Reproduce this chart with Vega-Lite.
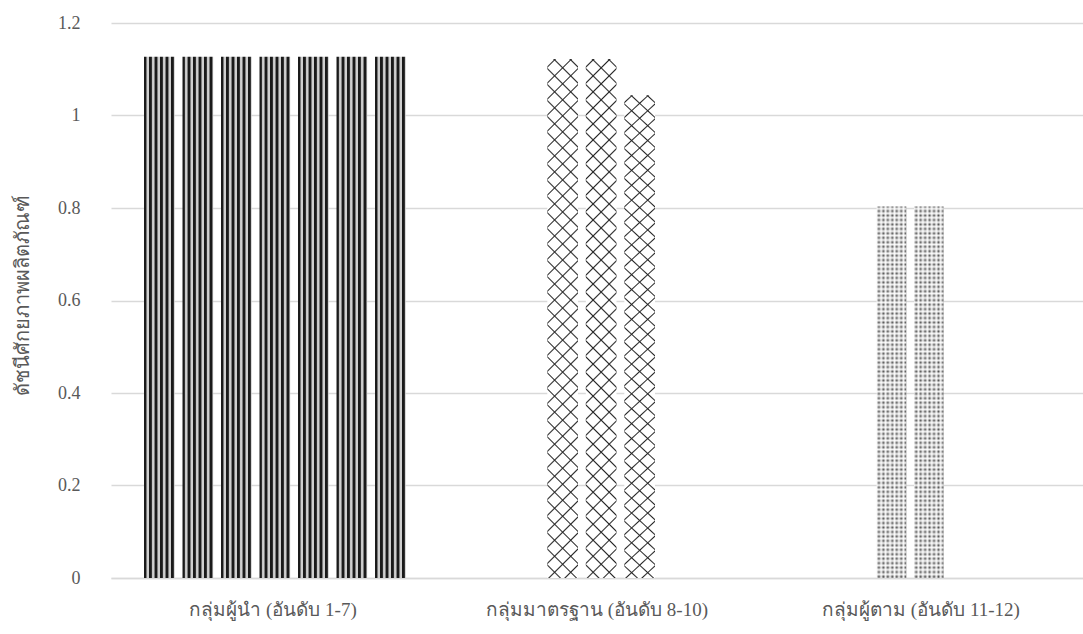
{
  "$schema": "https://vega.github.io/schema/vega-lite/v6.json",
  "width": 972,
  "height": 555,
  "autosize": {"type": "none"},
  "padding": {"left": 111, "top": 23, "right": 0, "bottom": 56},
  "background": "white",
  "config": {
    "view": {"stroke": null},
    "font": "Liberation Serif",
    "axis": {
      "labelFont": "Liberation Serif",
      "labelColor": "#595959",
      "labelFontSize": 18,
      "titleFont": "Liberation Serif",
      "titleColor": "#595959",
      "titleFontSize": 20,
      "titleFontWeight": "normal",
      "ticks": false
    },
    "axisX": {"domainColor": "#d9d9d9", "domainWidth": 1.5, "labelPadding": 22, "labelAngle": 0, "labelLimit": 0, "labelFontSize": 19, "grid": false},
    "axisY": {"domain": false, "gridColor": "#d9d9d9", "gridWidth": 1.3, "labelPadding": 31}
  },
  "resolve": {"scale": {"xOffset": "independent"}},
  "layer": [
    {
      "data": {"values": [
        {"group": "กลุ่มผู้นำ (อันดับ 1-7)", "rank": 1, "index": 1.127},
        {"group": "กลุ่มผู้นำ (อันดับ 1-7)", "rank": 2, "index": 1.127},
        {"group": "กลุ่มผู้นำ (อันดับ 1-7)", "rank": 3, "index": 1.127},
        {"group": "กลุ่มผู้นำ (อันดับ 1-7)", "rank": 4, "index": 1.127},
        {"group": "กลุ่มผู้นำ (อันดับ 1-7)", "rank": 5, "index": 1.127},
        {"group": "กลุ่มผู้นำ (อันดับ 1-7)", "rank": 6, "index": 1.127},
        {"group": "กลุ่มผู้นำ (อันดับ 1-7)", "rank": 7, "index": 1.127}
      ]},
      "mark": {
        "type": "bar",
        "fill": {
          "gradient": "linear", "x1": 0, "y1": 0, "x2": 1, "y2": 0,
          "stops": [
            {"offset": 0, "color": "#1a1a1a"}, {"offset": 0.06, "color": "#1a1a1a"}, {"offset": 0.1, "color": "#cfcfcf"}, {"offset": 0.15, "color": "#cfcfcf"},
            {"offset": 0.179, "color": "#1a1a1a"}, {"offset": 0.239, "color": "#1a1a1a"}, {"offset": 0.279, "color": "#cfcfcf"}, {"offset": 0.329, "color": "#cfcfcf"},
            {"offset": 0.358, "color": "#1a1a1a"}, {"offset": 0.418, "color": "#1a1a1a"}, {"offset": 0.458, "color": "#cfcfcf"}, {"offset": 0.508, "color": "#cfcfcf"},
            {"offset": 0.537, "color": "#1a1a1a"}, {"offset": 0.597, "color": "#1a1a1a"}, {"offset": 0.637, "color": "#cfcfcf"}, {"offset": 0.687, "color": "#cfcfcf"},
            {"offset": 0.716, "color": "#1a1a1a"}, {"offset": 0.776, "color": "#1a1a1a"}, {"offset": 0.816, "color": "#cfcfcf"}, {"offset": 0.866, "color": "#cfcfcf"},
            {"offset": 0.895, "color": "#1a1a1a"}, {"offset": 0.955, "color": "#1a1a1a"}, {"offset": 0.995, "color": "#cfcfcf"}, {"offset": 1, "color": "#cfcfcf"}
          ]
        }
      },
      "encoding": {
        "x": {
          "field": "group", "type": "nominal", "title": null,
          "scale": {"domain": ["กลุ่มผู้นำ (อันดับ 1-7)", "กลุ่มมาตรฐาน (อันดับ 8-10)", "กลุ่มผู้ตาม (อันดับ 11-12)"], "paddingInner": 0, "paddingOuter": 0}
        },
        "xOffset": {"field": "rank", "type": "ordinal", "scale": {"range": [33, 294.7], "paddingInner": 0.203, "paddingOuter": 0}},
        "y": {
          "field": "index", "type": "quantitative",
          "title": "ดัชนีศักยภาพผลิตภัณฑ์",
          "scale": {"domain": [0, 1.2]},
          "axis": {"values": [0, 0.2, 0.4, 0.6, 0.8, 1, 1.2], "format": "~g", "titleX": -89, "titleY": 272, "titleAlign": "center", "titleBaseline": "middle"}
        }
      }
    },
    {
      "data": {"values": [
        {"group": "กลุ่มมาตรฐาน (อันดับ 8-10)", "rank": 8, "index": 1.122},
        {"group": "กลุ่มมาตรฐาน (อันดับ 8-10)", "rank": 9, "index": 1.122},
        {"group": "กลุ่มมาตรฐาน (อันดับ 8-10)", "rank": 10, "index": 1.044}
      ]},
      "encoding": {
        "x": {"field": "group", "type": "nominal", "title": null},
        "xOffset": {"field": "rank", "type": "ordinal", "scale": {"range": [112.3, 220], "paddingInner": 0.203, "paddingOuter": 0}},
        "y": {"field": "index", "type": "quantitative"}
      },
      "layer": [
        {
          "mark": {
            "type": "bar",
            "fill": {
              "gradient": "linear", "x1": 1, "y1": 0, "x2": 0, "y2": 17,
              "stops": [
                {"offset": 0.000734, "color": "#ffffff"}, {"offset": 0.000904, "color": "#262626"}, {"offset": 0.001074, "color": "#ffffff"},
                {"offset": 0.002543, "color": "#ffffff"}, {"offset": 0.002713, "color": "#262626"}, {"offset": 0.002883, "color": "#ffffff"},
                {"offset": 0.004352, "color": "#ffffff"}, {"offset": 0.004522, "color": "#262626"}, {"offset": 0.004692, "color": "#ffffff"},
                {"offset": 0.006161, "color": "#ffffff"}, {"offset": 0.006331, "color": "#262626"}, {"offset": 0.006501, "color": "#ffffff"},
                {"offset": 0.00797, "color": "#ffffff"}, {"offset": 0.00814, "color": "#262626"}, {"offset": 0.00831, "color": "#ffffff"},
                {"offset": 0.009779, "color": "#ffffff"}, {"offset": 0.009949, "color": "#262626"}, {"offset": 0.010119, "color": "#ffffff"},
                {"offset": 0.011588, "color": "#ffffff"}, {"offset": 0.011758, "color": "#262626"}, {"offset": 0.011928, "color": "#ffffff"},
                {"offset": 0.013397, "color": "#ffffff"}, {"offset": 0.013567, "color": "#262626"}, {"offset": 0.013737, "color": "#ffffff"},
                {"offset": 0.015206, "color": "#ffffff"}, {"offset": 0.015376, "color": "#262626"}, {"offset": 0.015546, "color": "#ffffff"},
                {"offset": 0.017015, "color": "#ffffff"}, {"offset": 0.017185, "color": "#262626"}, {"offset": 0.017355, "color": "#ffffff"},
                {"offset": 0.018824, "color": "#ffffff"}, {"offset": 0.018994, "color": "#262626"}, {"offset": 0.019164, "color": "#ffffff"},
                {"offset": 0.020633, "color": "#ffffff"}, {"offset": 0.020803, "color": "#262626"}, {"offset": 0.020973, "color": "#ffffff"},
                {"offset": 0.022442, "color": "#ffffff"}, {"offset": 0.022612, "color": "#262626"}, {"offset": 0.022782, "color": "#ffffff"},
                {"offset": 0.024251, "color": "#ffffff"}, {"offset": 0.024421, "color": "#262626"}, {"offset": 0.024591, "color": "#ffffff"},
                {"offset": 0.026059, "color": "#ffffff"}, {"offset": 0.026229, "color": "#262626"}, {"offset": 0.026399, "color": "#ffffff"},
                {"offset": 0.027868, "color": "#ffffff"}, {"offset": 0.028038, "color": "#262626"}, {"offset": 0.028208, "color": "#ffffff"},
                {"offset": 0.029677, "color": "#ffffff"}, {"offset": 0.029847, "color": "#262626"}, {"offset": 0.030017, "color": "#ffffff"},
                {"offset": 0.031486, "color": "#ffffff"}, {"offset": 0.031656, "color": "#262626"}, {"offset": 0.031826, "color": "#ffffff"},
                {"offset": 0.033295, "color": "#ffffff"}, {"offset": 0.033465, "color": "#262626"}, {"offset": 0.033635, "color": "#ffffff"},
                {"offset": 0.035104, "color": "#ffffff"}, {"offset": 0.035274, "color": "#262626"}, {"offset": 0.035444, "color": "#ffffff"},
                {"offset": 0.036913, "color": "#ffffff"}, {"offset": 0.037083, "color": "#262626"}, {"offset": 0.037253, "color": "#ffffff"},
                {"offset": 0.038722, "color": "#ffffff"}, {"offset": 0.038892, "color": "#262626"}, {"offset": 0.039062, "color": "#ffffff"},
                {"offset": 0.040531, "color": "#ffffff"}, {"offset": 0.040701, "color": "#262626"}, {"offset": 0.040871, "color": "#ffffff"},
                {"offset": 0.04234, "color": "#ffffff"}, {"offset": 0.04251, "color": "#262626"}, {"offset": 0.04268, "color": "#ffffff"},
                {"offset": 0.044149, "color": "#ffffff"}, {"offset": 0.044319, "color": "#262626"}, {"offset": 0.044489, "color": "#ffffff"},
                {"offset": 0.045958, "color": "#ffffff"}, {"offset": 0.046128, "color": "#262626"}, {"offset": 0.046298, "color": "#ffffff"},
                {"offset": 0.047767, "color": "#ffffff"}, {"offset": 0.047937, "color": "#262626"}, {"offset": 0.048107, "color": "#ffffff"},
                {"offset": 0.049576, "color": "#ffffff"}, {"offset": 0.049746, "color": "#262626"}, {"offset": 0.049916, "color": "#ffffff"},
                {"offset": 0.051385, "color": "#ffffff"}, {"offset": 0.051555, "color": "#262626"}, {"offset": 0.051725, "color": "#ffffff"},
                {"offset": 0.053194, "color": "#ffffff"}, {"offset": 0.053364, "color": "#262626"}, {"offset": 0.053534, "color": "#ffffff"},
                {"offset": 0.055002, "color": "#ffffff"}, {"offset": 0.055172, "color": "#262626"}, {"offset": 0.055342, "color": "#ffffff"},
                {"offset": 0.056811, "color": "#ffffff"}, {"offset": 0.056981, "color": "#262626"}, {"offset": 0.057151, "color": "#ffffff"},
                {"offset": 0.05862, "color": "#ffffff"}, {"offset": 0.05879, "color": "#262626"}, {"offset": 0.05896, "color": "#ffffff"},
                {"offset": 0.060429, "color": "#ffffff"}, {"offset": 0.060599, "color": "#262626"}, {"offset": 0.060769, "color": "#ffffff"},
                {"offset": 0.062238, "color": "#ffffff"}, {"offset": 0.062408, "color": "#262626"}, {"offset": 0.062578, "color": "#ffffff"}
              ]
            }
          }
        },
        {
          "mark": {
            "type": "bar",
            "fill": {
              "gradient": "linear", "x1": 0, "y1": 0, "x2": 1, "y2": 17,
              "stops": [
                {"offset": 0.000734, "color": "rgba(38,38,38,0)"}, {"offset": 0.000904, "color": "#262626"}, {"offset": 0.001074, "color": "rgba(38,38,38,0)"},
                {"offset": 0.002543, "color": "rgba(38,38,38,0)"}, {"offset": 0.002713, "color": "#262626"}, {"offset": 0.002883, "color": "rgba(38,38,38,0)"},
                {"offset": 0.004352, "color": "rgba(38,38,38,0)"}, {"offset": 0.004522, "color": "#262626"}, {"offset": 0.004692, "color": "rgba(38,38,38,0)"},
                {"offset": 0.006161, "color": "rgba(38,38,38,0)"}, {"offset": 0.006331, "color": "#262626"}, {"offset": 0.006501, "color": "rgba(38,38,38,0)"},
                {"offset": 0.00797, "color": "rgba(38,38,38,0)"}, {"offset": 0.00814, "color": "#262626"}, {"offset": 0.00831, "color": "rgba(38,38,38,0)"},
                {"offset": 0.009779, "color": "rgba(38,38,38,0)"}, {"offset": 0.009949, "color": "#262626"}, {"offset": 0.010119, "color": "rgba(38,38,38,0)"},
                {"offset": 0.011588, "color": "rgba(38,38,38,0)"}, {"offset": 0.011758, "color": "#262626"}, {"offset": 0.011928, "color": "rgba(38,38,38,0)"},
                {"offset": 0.013397, "color": "rgba(38,38,38,0)"}, {"offset": 0.013567, "color": "#262626"}, {"offset": 0.013737, "color": "rgba(38,38,38,0)"},
                {"offset": 0.015206, "color": "rgba(38,38,38,0)"}, {"offset": 0.015376, "color": "#262626"}, {"offset": 0.015546, "color": "rgba(38,38,38,0)"},
                {"offset": 0.017015, "color": "rgba(38,38,38,0)"}, {"offset": 0.017185, "color": "#262626"}, {"offset": 0.017355, "color": "rgba(38,38,38,0)"},
                {"offset": 0.018824, "color": "rgba(38,38,38,0)"}, {"offset": 0.018994, "color": "#262626"}, {"offset": 0.019164, "color": "rgba(38,38,38,0)"},
                {"offset": 0.020633, "color": "rgba(38,38,38,0)"}, {"offset": 0.020803, "color": "#262626"}, {"offset": 0.020973, "color": "rgba(38,38,38,0)"},
                {"offset": 0.022442, "color": "rgba(38,38,38,0)"}, {"offset": 0.022612, "color": "#262626"}, {"offset": 0.022782, "color": "rgba(38,38,38,0)"},
                {"offset": 0.024251, "color": "rgba(38,38,38,0)"}, {"offset": 0.024421, "color": "#262626"}, {"offset": 0.024591, "color": "rgba(38,38,38,0)"},
                {"offset": 0.026059, "color": "rgba(38,38,38,0)"}, {"offset": 0.026229, "color": "#262626"}, {"offset": 0.026399, "color": "rgba(38,38,38,0)"},
                {"offset": 0.027868, "color": "rgba(38,38,38,0)"}, {"offset": 0.028038, "color": "#262626"}, {"offset": 0.028208, "color": "rgba(38,38,38,0)"},
                {"offset": 0.029677, "color": "rgba(38,38,38,0)"}, {"offset": 0.029847, "color": "#262626"}, {"offset": 0.030017, "color": "rgba(38,38,38,0)"},
                {"offset": 0.031486, "color": "rgba(38,38,38,0)"}, {"offset": 0.031656, "color": "#262626"}, {"offset": 0.031826, "color": "rgba(38,38,38,0)"},
                {"offset": 0.033295, "color": "rgba(38,38,38,0)"}, {"offset": 0.033465, "color": "#262626"}, {"offset": 0.033635, "color": "rgba(38,38,38,0)"},
                {"offset": 0.035104, "color": "rgba(38,38,38,0)"}, {"offset": 0.035274, "color": "#262626"}, {"offset": 0.035444, "color": "rgba(38,38,38,0)"},
                {"offset": 0.036913, "color": "rgba(38,38,38,0)"}, {"offset": 0.037083, "color": "#262626"}, {"offset": 0.037253, "color": "rgba(38,38,38,0)"},
                {"offset": 0.038722, "color": "rgba(38,38,38,0)"}, {"offset": 0.038892, "color": "#262626"}, {"offset": 0.039062, "color": "rgba(38,38,38,0)"},
                {"offset": 0.040531, "color": "rgba(38,38,38,0)"}, {"offset": 0.040701, "color": "#262626"}, {"offset": 0.040871, "color": "rgba(38,38,38,0)"},
                {"offset": 0.04234, "color": "rgba(38,38,38,0)"}, {"offset": 0.04251, "color": "#262626"}, {"offset": 0.04268, "color": "rgba(38,38,38,0)"},
                {"offset": 0.044149, "color": "rgba(38,38,38,0)"}, {"offset": 0.044319, "color": "#262626"}, {"offset": 0.044489, "color": "rgba(38,38,38,0)"},
                {"offset": 0.045958, "color": "rgba(38,38,38,0)"}, {"offset": 0.046128, "color": "#262626"}, {"offset": 0.046298, "color": "rgba(38,38,38,0)"},
                {"offset": 0.047767, "color": "rgba(38,38,38,0)"}, {"offset": 0.047937, "color": "#262626"}, {"offset": 0.048107, "color": "rgba(38,38,38,0)"},
                {"offset": 0.049576, "color": "rgba(38,38,38,0)"}, {"offset": 0.049746, "color": "#262626"}, {"offset": 0.049916, "color": "rgba(38,38,38,0)"},
                {"offset": 0.051385, "color": "rgba(38,38,38,0)"}, {"offset": 0.051555, "color": "#262626"}, {"offset": 0.051725, "color": "rgba(38,38,38,0)"},
                {"offset": 0.053194, "color": "rgba(38,38,38,0)"}, {"offset": 0.053364, "color": "#262626"}, {"offset": 0.053534, "color": "rgba(38,38,38,0)"},
                {"offset": 0.055002, "color": "rgba(38,38,38,0)"}, {"offset": 0.055172, "color": "#262626"}, {"offset": 0.055342, "color": "rgba(38,38,38,0)"},
                {"offset": 0.056811, "color": "rgba(38,38,38,0)"}, {"offset": 0.056981, "color": "#262626"}, {"offset": 0.057151, "color": "rgba(38,38,38,0)"},
                {"offset": 0.05862, "color": "rgba(38,38,38,0)"}, {"offset": 0.05879, "color": "#262626"}, {"offset": 0.05896, "color": "rgba(38,38,38,0)"},
                {"offset": 0.060429, "color": "rgba(38,38,38,0)"}, {"offset": 0.060599, "color": "#262626"}, {"offset": 0.060769, "color": "rgba(38,38,38,0)"},
                {"offset": 0.062238, "color": "rgba(38,38,38,0)"}, {"offset": 0.062408, "color": "#262626"}, {"offset": 0.062578, "color": "rgba(38,38,38,0)"}
              ]
            }
          }
        }
      ]
    },
    {
      "data": {"values": [
        {"group": "กลุ่มผู้ตาม (อันดับ 11-12)", "rank": 11, "index": 0.803},
        {"group": "กลุ่มผู้ตาม (อันดับ 11-12)", "rank": 12, "index": 0.803}
      ]},
      "encoding": {
        "x": {"field": "group", "type": "nominal", "title": null},
        "xOffset": {"field": "rank", "type": "ordinal", "scale": {"range": [117.7, 184.7], "paddingInner": 0.203, "paddingOuter": 0}},
        "y": {"field": "index", "type": "quantitative"}
      },
      "layer": [
        {
          "mark": {
            "type": "bar",
            "fill": {
              "gradient": "linear", "x1": 0, "y1": 0, "x2": 1, "y2": 0,
              "stops": [
                {"offset": 0, "color": "#f0f0f0"}, {"offset": 0.075, "color": "#555555"}, {"offset": 0.15, "color": "#f0f0f0"},
                {"offset": 0.225, "color": "#555555"}, {"offset": 0.3, "color": "#f0f0f0"}, {"offset": 0.375, "color": "#555555"},
                {"offset": 0.45, "color": "#f0f0f0"}, {"offset": 0.525, "color": "#555555"}, {"offset": 0.6, "color": "#f0f0f0"},
                {"offset": 0.675, "color": "#555555"}, {"offset": 0.75, "color": "#f0f0f0"}, {"offset": 0.825, "color": "#555555"},
                {"offset": 0.9, "color": "#f0f0f0"}, {"offset": 0.975, "color": "#555555"}, {"offset": 1, "color": "#8a8a8a"}
              ]
            }
          }
        },
        {
          "mark": {
            "type": "bar",
            "fill": {
              "gradient": "linear", "x1": 0, "y1": 0, "x2": 0, "y2": 1,
              "stops": [
                {"offset": 0, "color": "rgba(255,255,255,0)"}, {"offset": 0.006, "color": "rgba(255,255,255,0.9)"},
                {"offset": 0.012, "color": "rgba(255,255,255,0)"}, {"offset": 0.018, "color": "rgba(255,255,255,0.9)"},
                {"offset": 0.024, "color": "rgba(255,255,255,0)"}, {"offset": 0.03, "color": "rgba(255,255,255,0.9)"},
                {"offset": 0.036, "color": "rgba(255,255,255,0)"}, {"offset": 0.042, "color": "rgba(255,255,255,0.9)"},
                {"offset": 0.048, "color": "rgba(255,255,255,0)"}, {"offset": 0.054, "color": "rgba(255,255,255,0.9)"},
                {"offset": 0.06, "color": "rgba(255,255,255,0)"}, {"offset": 0.066, "color": "rgba(255,255,255,0.9)"},
                {"offset": 0.072, "color": "rgba(255,255,255,0)"}, {"offset": 0.078, "color": "rgba(255,255,255,0.9)"},
                {"offset": 0.084, "color": "rgba(255,255,255,0)"}, {"offset": 0.09, "color": "rgba(255,255,255,0.9)"},
                {"offset": 0.096, "color": "rgba(255,255,255,0)"}, {"offset": 0.102, "color": "rgba(255,255,255,0.9)"},
                {"offset": 0.108, "color": "rgba(255,255,255,0)"}, {"offset": 0.114, "color": "rgba(255,255,255,0.9)"},
                {"offset": 0.12, "color": "rgba(255,255,255,0)"}, {"offset": 0.126, "color": "rgba(255,255,255,0.9)"},
                {"offset": 0.132, "color": "rgba(255,255,255,0)"}, {"offset": 0.138, "color": "rgba(255,255,255,0.9)"},
                {"offset": 0.144, "color": "rgba(255,255,255,0)"}, {"offset": 0.15, "color": "rgba(255,255,255,0.9)"},
                {"offset": 0.156, "color": "rgba(255,255,255,0)"}, {"offset": 0.162, "color": "rgba(255,255,255,0.9)"},
                {"offset": 0.168, "color": "rgba(255,255,255,0)"}, {"offset": 0.174, "color": "rgba(255,255,255,0.9)"},
                {"offset": 0.18, "color": "rgba(255,255,255,0)"}, {"offset": 0.186, "color": "rgba(255,255,255,0.9)"},
                {"offset": 0.192, "color": "rgba(255,255,255,0)"}, {"offset": 0.198, "color": "rgba(255,255,255,0.9)"},
                {"offset": 0.204, "color": "rgba(255,255,255,0)"}, {"offset": 0.21, "color": "rgba(255,255,255,0.9)"},
                {"offset": 0.216, "color": "rgba(255,255,255,0)"}, {"offset": 0.222, "color": "rgba(255,255,255,0.9)"},
                {"offset": 0.228, "color": "rgba(255,255,255,0)"}, {"offset": 0.234, "color": "rgba(255,255,255,0.9)"},
                {"offset": 0.24, "color": "rgba(255,255,255,0)"}, {"offset": 0.246, "color": "rgba(255,255,255,0.9)"},
                {"offset": 0.252, "color": "rgba(255,255,255,0)"}, {"offset": 0.258, "color": "rgba(255,255,255,0.9)"},
                {"offset": 0.264, "color": "rgba(255,255,255,0)"}, {"offset": 0.27, "color": "rgba(255,255,255,0.9)"},
                {"offset": 0.276, "color": "rgba(255,255,255,0)"}, {"offset": 0.282, "color": "rgba(255,255,255,0.9)"},
                {"offset": 0.288, "color": "rgba(255,255,255,0)"}, {"offset": 0.294, "color": "rgba(255,255,255,0.9)"},
                {"offset": 0.3, "color": "rgba(255,255,255,0)"}, {"offset": 0.306, "color": "rgba(255,255,255,0.9)"},
                {"offset": 0.312, "color": "rgba(255,255,255,0)"}, {"offset": 0.318, "color": "rgba(255,255,255,0.9)"},
                {"offset": 0.324, "color": "rgba(255,255,255,0)"}, {"offset": 0.33, "color": "rgba(255,255,255,0.9)"},
                {"offset": 0.336, "color": "rgba(255,255,255,0)"}, {"offset": 0.342, "color": "rgba(255,255,255,0.9)"},
                {"offset": 0.348, "color": "rgba(255,255,255,0)"}, {"offset": 0.354, "color": "rgba(255,255,255,0.9)"},
                {"offset": 0.36, "color": "rgba(255,255,255,0)"}, {"offset": 0.366, "color": "rgba(255,255,255,0.9)"},
                {"offset": 0.372, "color": "rgba(255,255,255,0)"}, {"offset": 0.378, "color": "rgba(255,255,255,0.9)"},
                {"offset": 0.384, "color": "rgba(255,255,255,0)"}, {"offset": 0.39, "color": "rgba(255,255,255,0.9)"},
                {"offset": 0.396, "color": "rgba(255,255,255,0)"}, {"offset": 0.402, "color": "rgba(255,255,255,0.9)"},
                {"offset": 0.408, "color": "rgba(255,255,255,0)"}, {"offset": 0.414, "color": "rgba(255,255,255,0.9)"},
                {"offset": 0.42, "color": "rgba(255,255,255,0)"}, {"offset": 0.426, "color": "rgba(255,255,255,0.9)"},
                {"offset": 0.432, "color": "rgba(255,255,255,0)"}, {"offset": 0.438, "color": "rgba(255,255,255,0.9)"},
                {"offset": 0.444, "color": "rgba(255,255,255,0)"}, {"offset": 0.45, "color": "rgba(255,255,255,0.9)"},
                {"offset": 0.456, "color": "rgba(255,255,255,0)"}, {"offset": 0.462, "color": "rgba(255,255,255,0.9)"},
                {"offset": 0.468, "color": "rgba(255,255,255,0)"}, {"offset": 0.474, "color": "rgba(255,255,255,0.9)"},
                {"offset": 0.48, "color": "rgba(255,255,255,0)"}, {"offset": 0.486, "color": "rgba(255,255,255,0.9)"},
                {"offset": 0.492, "color": "rgba(255,255,255,0)"}, {"offset": 0.498, "color": "rgba(255,255,255,0.9)"},
                {"offset": 0.504, "color": "rgba(255,255,255,0)"}, {"offset": 0.51, "color": "rgba(255,255,255,0.9)"},
                {"offset": 0.516, "color": "rgba(255,255,255,0)"}, {"offset": 0.522, "color": "rgba(255,255,255,0.9)"},
                {"offset": 0.528, "color": "rgba(255,255,255,0)"}, {"offset": 0.534, "color": "rgba(255,255,255,0.9)"},
                {"offset": 0.54, "color": "rgba(255,255,255,0)"}, {"offset": 0.546, "color": "rgba(255,255,255,0.9)"},
                {"offset": 0.552, "color": "rgba(255,255,255,0)"}, {"offset": 0.558, "color": "rgba(255,255,255,0.9)"},
                {"offset": 0.564, "color": "rgba(255,255,255,0)"}, {"offset": 0.57, "color": "rgba(255,255,255,0.9)"},
                {"offset": 0.576, "color": "rgba(255,255,255,0)"}, {"offset": 0.582, "color": "rgba(255,255,255,0.9)"},
                {"offset": 0.588, "color": "rgba(255,255,255,0)"}, {"offset": 0.594, "color": "rgba(255,255,255,0.9)"},
                {"offset": 0.6, "color": "rgba(255,255,255,0)"}, {"offset": 0.606, "color": "rgba(255,255,255,0.9)"},
                {"offset": 0.612, "color": "rgba(255,255,255,0)"}, {"offset": 0.618, "color": "rgba(255,255,255,0.9)"},
                {"offset": 0.624, "color": "rgba(255,255,255,0)"}, {"offset": 0.63, "color": "rgba(255,255,255,0.9)"},
                {"offset": 0.636, "color": "rgba(255,255,255,0)"}, {"offset": 0.642, "color": "rgba(255,255,255,0.9)"},
                {"offset": 0.648, "color": "rgba(255,255,255,0)"}, {"offset": 0.654, "color": "rgba(255,255,255,0.9)"},
                {"offset": 0.66, "color": "rgba(255,255,255,0)"}, {"offset": 0.666, "color": "rgba(255,255,255,0.9)"},
                {"offset": 0.672, "color": "rgba(255,255,255,0)"}, {"offset": 0.678, "color": "rgba(255,255,255,0.9)"},
                {"offset": 0.684, "color": "rgba(255,255,255,0)"}, {"offset": 0.69, "color": "rgba(255,255,255,0.9)"},
                {"offset": 0.696, "color": "rgba(255,255,255,0)"}, {"offset": 0.702, "color": "rgba(255,255,255,0.9)"},
                {"offset": 0.708, "color": "rgba(255,255,255,0)"}, {"offset": 0.714, "color": "rgba(255,255,255,0.9)"},
                {"offset": 0.72, "color": "rgba(255,255,255,0)"}, {"offset": 0.726, "color": "rgba(255,255,255,0.9)"},
                {"offset": 0.732, "color": "rgba(255,255,255,0)"}, {"offset": 0.738, "color": "rgba(255,255,255,0.9)"},
                {"offset": 0.744, "color": "rgba(255,255,255,0)"}, {"offset": 0.75, "color": "rgba(255,255,255,0.9)"},
                {"offset": 0.756, "color": "rgba(255,255,255,0)"}, {"offset": 0.762, "color": "rgba(255,255,255,0.9)"},
                {"offset": 0.768, "color": "rgba(255,255,255,0)"}, {"offset": 0.774, "color": "rgba(255,255,255,0.9)"},
                {"offset": 0.78, "color": "rgba(255,255,255,0)"}, {"offset": 0.786, "color": "rgba(255,255,255,0.9)"},
                {"offset": 0.792, "color": "rgba(255,255,255,0)"}, {"offset": 0.798, "color": "rgba(255,255,255,0.9)"},
                {"offset": 0.804, "color": "rgba(255,255,255,0)"}, {"offset": 0.81, "color": "rgba(255,255,255,0.9)"},
                {"offset": 0.816, "color": "rgba(255,255,255,0)"}, {"offset": 0.822, "color": "rgba(255,255,255,0.9)"},
                {"offset": 0.828, "color": "rgba(255,255,255,0)"}, {"offset": 0.834, "color": "rgba(255,255,255,0.9)"},
                {"offset": 0.84, "color": "rgba(255,255,255,0)"}, {"offset": 0.846, "color": "rgba(255,255,255,0.9)"},
                {"offset": 0.852, "color": "rgba(255,255,255,0)"}, {"offset": 0.858, "color": "rgba(255,255,255,0.9)"},
                {"offset": 0.864, "color": "rgba(255,255,255,0)"}, {"offset": 0.87, "color": "rgba(255,255,255,0.9)"},
                {"offset": 0.876, "color": "rgba(255,255,255,0)"}, {"offset": 0.882, "color": "rgba(255,255,255,0.9)"},
                {"offset": 0.888, "color": "rgba(255,255,255,0)"}, {"offset": 0.894, "color": "rgba(255,255,255,0.9)"},
                {"offset": 0.9, "color": "rgba(255,255,255,0)"}, {"offset": 0.906, "color": "rgba(255,255,255,0.9)"},
                {"offset": 0.912, "color": "rgba(255,255,255,0)"}, {"offset": 0.918, "color": "rgba(255,255,255,0.9)"},
                {"offset": 0.924, "color": "rgba(255,255,255,0)"}, {"offset": 0.93, "color": "rgba(255,255,255,0.9)"},
                {"offset": 0.936, "color": "rgba(255,255,255,0)"}, {"offset": 0.942, "color": "rgba(255,255,255,0.9)"},
                {"offset": 0.948, "color": "rgba(255,255,255,0)"}, {"offset": 0.954, "color": "rgba(255,255,255,0.9)"},
                {"offset": 0.96, "color": "rgba(255,255,255,0)"}, {"offset": 0.966, "color": "rgba(255,255,255,0.9)"},
                {"offset": 0.972, "color": "rgba(255,255,255,0)"}, {"offset": 0.978, "color": "rgba(255,255,255,0.9)"},
                {"offset": 0.984, "color": "rgba(255,255,255,0)"}, {"offset": 0.99, "color": "rgba(255,255,255,0.9)"},
                {"offset": 0.996, "color": "rgba(255,255,255,0)"}, {"offset": 1, "color": "rgba(255,255,255,0.3)"}
              ]
            }
          }
        }
      ]
    }
  ]
}
